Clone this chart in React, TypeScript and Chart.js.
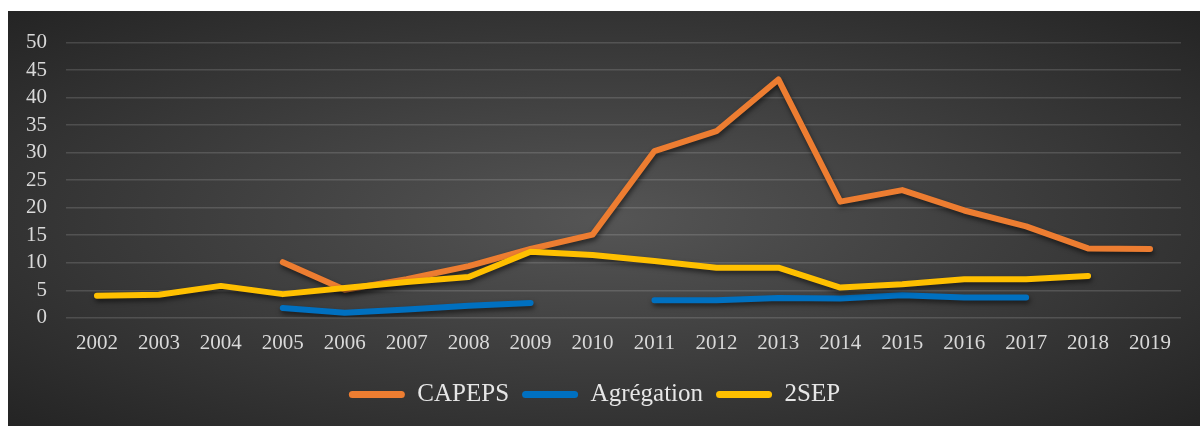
import React, { useEffect, useRef } from "react";
import { Chart, registerables } from "chart.js";

Chart.register(...registerables);

const years = ["2002","2003","2004","2005","2006","2007","2008","2009","2010","2011","2012","2013","2014","2015","2016","2017","2018","2019"];
const capeps = [null, null, null, 10.1, 5.1, 7.0, 9.4, 12.5, 15.1, 30.3, 33.9, 43.3, 21.1, 23.2, 19.5, 16.6, 12.6, 12.5];
const agregation = [null, null, null, 1.8, 0.9, 1.5, 2.2, 2.7, null, 3.2, 3.2, 3.6, 3.5, 4.1, 3.7, 3.7, null, null];
const sep2 = [4.0, 4.2, 5.8, 4.3, 5.4, 6.5, 7.4, 12.0, 11.4, 10.3, 9.1, 9.1, 5.5, 6.1, 7.0, 7.0, 7.6, null];
const yTicks = [0, 5, 10, 15, 20, 25, 30, 35, 40, 45, 50];

const FONT = "'Liberation Serif', 'Times New Roman', serif";

const shadowPlugin = {
  id: "lineShadow",
  beforeDatasetsDraw(chart: any) {
    const ctx = chart.ctx;
    ctx.save();
    ctx.shadowColor = "rgba(0,0,0,0.55)";
    ctx.shadowBlur = 5;
    ctx.shadowOffsetX = 1;
    ctx.shadowOffsetY = 3;
  },
  afterDatasetsDraw(chart: any) {
    chart.ctx.restore();
  },
};

export default function App() {
  const ref = useRef<HTMLCanvasElement | null>(null);
  useEffect(() => {
    if (!ref.current) return;
    const common = {
      borderWidth: 6,
      pointRadius: 0,
      pointHoverRadius: 0,
      tension: 0,
      spanGaps: false,
      borderCapStyle: "round" as const,
      borderJoinStyle: "round" as const,
      fill: false,
    };
    const chart = new Chart(ref.current, {
      type: "line",
      data: {
        labels: years,
        datasets: [
          { label: "CAPEPS", data: capeps, borderColor: "#ED7D31", backgroundColor: "#ED7D31", order: 1, ...common },
          { label: "Agrégation", data: agregation, borderColor: "#0070C0", backgroundColor: "#0070C0", order: 2, ...common },
          { label: "2SEP", data: sep2, borderColor: "#FFC000", backgroundColor: "#FFC000", order: 0, ...common },
        ],
      },
      options: {
        animation: false,
        responsive: false,
        maintainAspectRatio: false,
        layout: { padding: { left: 0, right: 19, top: 13, bottom: 9 } },
        scales: {
          x: {
            offset: true,
            grid: { display: false, drawTicks: false, offset: true },
            border: { display: false },
            ticks: { color: "#D9D9D9", font: { family: FONT, size: 21 }, padding: 13, maxRotation: 0, autoSkip: false },
          },
          y: {
            min: 0,
            max: 50,
            afterBuildTicks: (axis: any) => {
              axis.ticks = yTicks.map((v) => ({ value: v }));
            },
            afterFit: (axis: any) => {
              axis.width = 58;
            },
            grid: { color: "rgba(255,255,255,0.14)", lineWidth: 1.5, drawTicks: false },
            border: { display: false },
            ticks: { color: "#D9D9D9", font: { family: FONT, size: 21 }, padding: 19, autoSkip: false, stepSize: 5 },
          },
        },
        plugins: {
          tooltip: { enabled: false },
          legend: {
            position: "bottom",
            labels: {
              color: "#E6E6E6",
              font: { family: FONT, size: 25 },
              boxWidth: 56,
              boxHeight: 7,
              useBorderRadius: true,
              borderRadius: 3.5,
              padding: 13,
              sort: (a: any, b: any) => a.datasetIndex - b.datasetIndex,
              generateLabels: (c: any) =>
                Chart.defaults.plugins.legend.labels.generateLabels(c).map((l: any) => ({ ...l, lineWidth: 0 })),
            },
          },
        },
      },
      plugins: [shadowPlugin],
    });
    return () => chart.destroy();
  }, []);
  return (
    <div
      style={{
        position: "absolute",
        left: 8,
        top: 11,
        width: 1192,
        height: 415,
        background: "radial-gradient(ellipse at 50% 50%, #555555 0%, #3f3f3f 45%, #242424 100%)",
      }}
    >
      <canvas ref={ref} width={1192} height={415} style={{ display: "block" }} />
    </div>
  );
}
